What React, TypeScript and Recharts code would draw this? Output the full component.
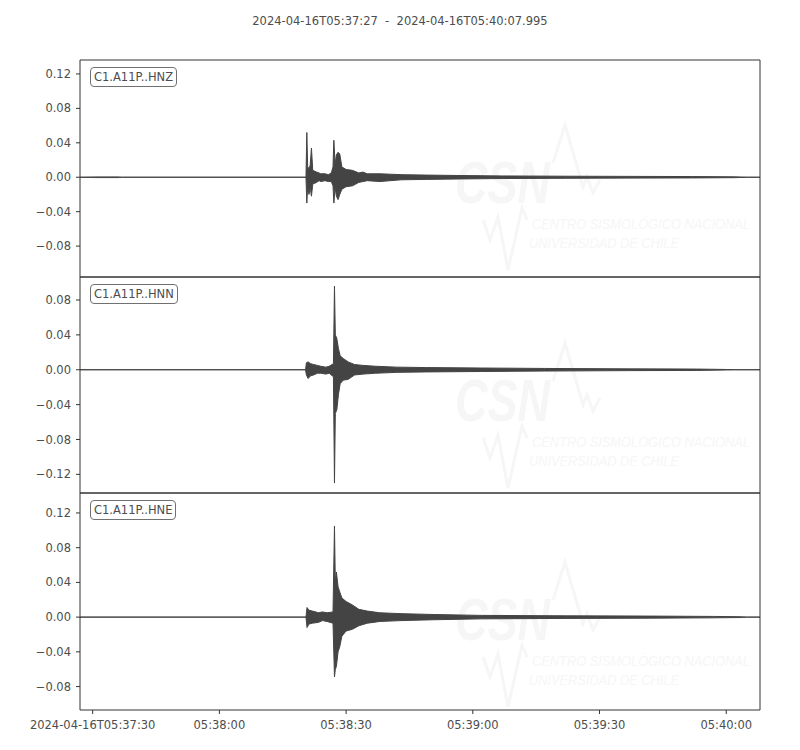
import { ComposedChart, Area, XAxis, YAxis, ReferenceArea } from "recharts";

const TITLE = "2024-04-16T05:37:27  -  2024-04-16T05:40:07.995";
// x values are seconds after 05:37:27
const T_END = 160.995;

const timeTicks = [3, 33, 63, 93, 123, 153];
const timeTickLabels = [
  "2024-04-16T05:37:30",
  "05:38:00",
  "05:38:30",
  "05:39:00",
  "05:39:30",
  "05:40:00",
];

const channels = ["C1.A11P..HNZ", "C1.A11P..HNN", "C1.A11P..HNE"];

const yDomains: [number, number][] = [
  [-0.1159, 0.1362],
  [-0.1414, 0.1064],
  [-0.107, 0.143],
];

const yTicks = [
  [-0.08, -0.04, 0, 0.04, 0.08, 0.12],
  [-0.12, -0.08, -0.04, 0, 0.04, 0.08],
  [-0.08, -0.04, 0, 0.04, 0.08, 0.12],
];

// trace envelope: [time, low, high]
const hnzEnvelope: [number, number, number][] = [
  [0, 0, 0],
  [3.5, -0.0004, 0.0004],
  [9, -0.0004, 0.0004],
  [10, 0, 0],
  [53.5, 0, 0],
  [53.7, -0.03, 0.052],
  [53.9, -0.01, 0.012],
  [54.2, -0.02, 0.01],
  [54.5, -0.012, 0.014],
  [54.8, -0.022, 0.034],
  [55.1, -0.008, 0.008],
  [56, -0.006, 0.006],
  [56.6, -0.004, 0.005],
  [57, -0.005, 0.004],
  [58, -0.004, 0.004],
  [58.8, -0.005, 0.003],
  [59.5, -0.005, 0.005],
  [59.9, -0.01, 0.012],
  [60.1, -0.03, 0.043],
  [60.4, -0.012, 0.015],
  [60.7, -0.022, 0.026],
  [61.1, -0.026, 0.029],
  [61.5, -0.02, 0.027],
  [62, -0.014, 0.012],
  [63, -0.011, 0.009],
  [64.5, -0.01, 0.008],
  [66, -0.006, 0.005],
  [67, -0.005, 0.006],
  [68, -0.004, 0.004],
  [71, -0.005, 0.004],
  [76, -0.003, 0.003],
  [82, -0.0025, 0.0025],
  [90, -0.002, 0.002],
  [100, -0.0015, 0.0015],
  [115, -0.0012, 0.0012],
  [130, -0.001, 0.001],
  [145, -0.0008, 0.0008],
  [155, -0.0005, 0.0005],
  [158, 0, 0],
  [T_END, 0, 0],
];

const hnnEnvelope: [number, number, number][] = [
  [0, 0, 0],
  [53.4, 0, 0],
  [53.6, -0.006, 0.008],
  [54, -0.01, 0.009],
  [54.6, -0.007, 0.007],
  [55.3, -0.006, 0.006],
  [56.2, -0.004, 0.005],
  [57, -0.004, 0.004],
  [58.2, -0.005, 0.003],
  [59, -0.004, 0.004],
  [60, -0.008, 0.007],
  [60.25, -0.13, 0.096],
  [60.45, -0.05, 0.04],
  [60.8, -0.046, 0.036],
  [61.2, -0.028, 0.024],
  [61.6, -0.016, 0.016],
  [62.3, -0.012, 0.013],
  [63.5, -0.011, 0.009],
  [65, -0.006, 0.006],
  [67, -0.005, 0.005],
  [70, -0.004, 0.004],
  [75, -0.003, 0.003],
  [82, -0.0025, 0.0025],
  [95, -0.002, 0.002],
  [110, -0.0015, 0.0015],
  [130, -0.001, 0.001],
  [146, -0.0008, 0.0008],
  [153, -0.0003, 0.0003],
  [155, 0, 0],
  [T_END, 0, 0],
];

const hneEnvelope: [number, number, number][] = [
  [0, 0, 0],
  [53.5, 0, 0],
  [53.75, -0.012, 0.011],
  [54.2, -0.008, 0.008],
  [55, -0.007, 0.007],
  [56.5, -0.006, 0.005],
  [57.4, -0.004, 0.006],
  [58.5, -0.005, 0.005],
  [59.9, -0.007, 0.006],
  [60.25, -0.069, 0.105],
  [60.45, -0.06, 0.04],
  [60.7, -0.057, 0.052],
  [61.1, -0.04, 0.035],
  [61.5, -0.034, 0.029],
  [62, -0.022, 0.022],
  [63, -0.016, 0.018],
  [64.5, -0.014, 0.014],
  [66, -0.01, 0.009],
  [68, -0.007, 0.007],
  [71, -0.005, 0.005],
  [76, -0.004, 0.004],
  [84, -0.003, 0.003],
  [95, -0.002, 0.002],
  [115, -0.0015, 0.0015],
  [135, -0.0012, 0.0012],
  [150, -0.0008, 0.0008],
  [156, -0.0005, 0.0005],
  [158, 0, 0],
  [T_END, 0, 0],
];

const envelopes = [hnzEnvelope, hnnEnvelope, hneEnvelope];

const FONT = "'DejaVu Sans', sans-serif";
const TEXT = "#4d4d4d";
const FRAME = "#333";
const TRACE = "#444";

const fmtY = (v: number) => (v < 0 ? "\u2212" + Math.abs(v).toFixed(2) : v.toFixed(2));

// chart boxes: top / height of each panel's div
const panelBoxes = [
  { top: 50, height: 237 },
  { top: 267, height: 236 },
  { top: 483, height: 257 },
];

function Panel({ idx }: { idx: number }) {
  const showX = idx === 2;
  const domain = yDomains[idx];
  const data = envelopes[idx].map(([t, lo, hi]) => ({ t, range: [lo, hi] }));
  const { top, height } = panelBoxes[idx];
  return (
    <div style={{ position: "absolute", left: 0, top, width: 800, height }}>
      <ComposedChart
        width={800}
        height={height}
        data={data}
        margin={{ top: 10, right: 40, bottom: showX ? 0 : 10, left: 20 }}
      >
        <XAxis
          type="number"
          dataKey="t"
          domain={[0, T_END]}
          allowDataOverflow
          hide={!showX}
          ticks={timeTicks}
          interval={0}
          height={30}
          axisLine={false}
          tickLine={{ stroke: FRAME }}
          tickSize={4}
          tickMargin={7}
          tick={{ fill: TEXT, fontSize: 11.5, fontFamily: FONT }}
          tickFormatter={(v) => timeTickLabels[timeTicks.indexOf(v)] ?? ""}
        />
        <YAxis
          type="number"
          domain={domain}
          allowDataOverflow
          ticks={yTicks[idx]}
          interval={0}
          width={60}
          axisLine={false}
          tickLine={{ stroke: FRAME }}
          tickSize={4}
          tickMargin={5}
          tick={{ fill: TEXT, fontSize: 11.5, fontFamily: FONT }}
          tickFormatter={fmtY}
        />
        <Area
          type="linear"
          dataKey="range"
          stroke={TRACE}
          strokeWidth={1}
          fill={TRACE}
          fillOpacity={1}
          dot={false}
          activeDot={false}
          isAnimationActive={false}
        />
        <ReferenceArea
          x1={0}
          x2={T_END}
          y1={domain[0]}
          y2={domain[1]}
          fill="none"
          stroke={FRAME}
          strokeWidth={1}
          ifOverflow="visible"
        />
      </ComposedChart>
    </div>
  );
}

const WM = "#f6f6f6";

// faint CSN logo behind each trace
function Watermark({ dy }: { dy: number }) {
  return (
    <g transform={`translate(0, ${dy})`} fontFamily="'Liberation Sans', sans-serif" fill={WM}>
      <text
        transform="translate(455, 203) scale(1, 1.3)"
        fontSize={46}
        fontWeight="bold"
        fontStyle="italic"
        textLength={95}
        lengthAdjust="spacingAndGlyphs"
      >
        CSN
      </text>
      <polyline points="553,163 565,125 583,187 587,177 593,193 600,180" fill="none" stroke={WM} strokeWidth={3} />
      <polyline points="483,220 490,240 498,217 508,270 522,208 527,220" fill="none" stroke={WM} strokeWidth={3} />
      <text
        transform="translate(532, 229) scale(1, 1.4)"
        fontSize={11}
        fontStyle="italic"
        textLength={218}
        lengthAdjust="spacingAndGlyphs"
      >
        CENTRO SISMOLÓGICO NACIONAL
      </text>
      <text
        transform="translate(529, 248) scale(1, 1.4)"
        fontSize={11}
        fontStyle="italic"
        textLength={150}
        lengthAdjust="spacingAndGlyphs"
      >
        UNIVERSIDAD DE CHILE
      </text>
    </g>
  );
}

const labelTops = [67, 284, 500];

export default function App() {
  return (
    <div
      style={{
        position: "absolute",
        left: 0,
        top: 0,
        width: 800,
        height: 750,
        background: "#fff",
        fontFamily: FONT,
      }}
    >
      <svg width={800} height={750} style={{ position: "absolute", left: 0, top: 0 }}>
        <Watermark dy={0} />
        <Watermark dy={218} />
        <Watermark dy={437} />
      </svg>
      <div
        style={{
          position: "absolute",
          left: 0,
          top: 13,
          width: 800,
          textAlign: "center",
          fontSize: 11.5,
          lineHeight: "16px",
          color: TEXT,
          whiteSpace: "pre",
        }}
      >
        {TITLE}
      </div>
      {[0, 1, 2].map((i) => (
        <Panel key={i} idx={i} />
      ))}
      {channels.map((name, i) => (
        <div
          key={name}
          style={{
            position: "absolute",
            left: 90,
            top: labelTops[i],
            padding: "1px 3px",
            border: "1px solid #707070",
            borderRadius: 4,
            background: "#fff",
            fontSize: 11.5,
            lineHeight: "16px",
            color: TEXT,
          }}
        >
          {name}
        </div>
      ))}
    </div>
  );
}
